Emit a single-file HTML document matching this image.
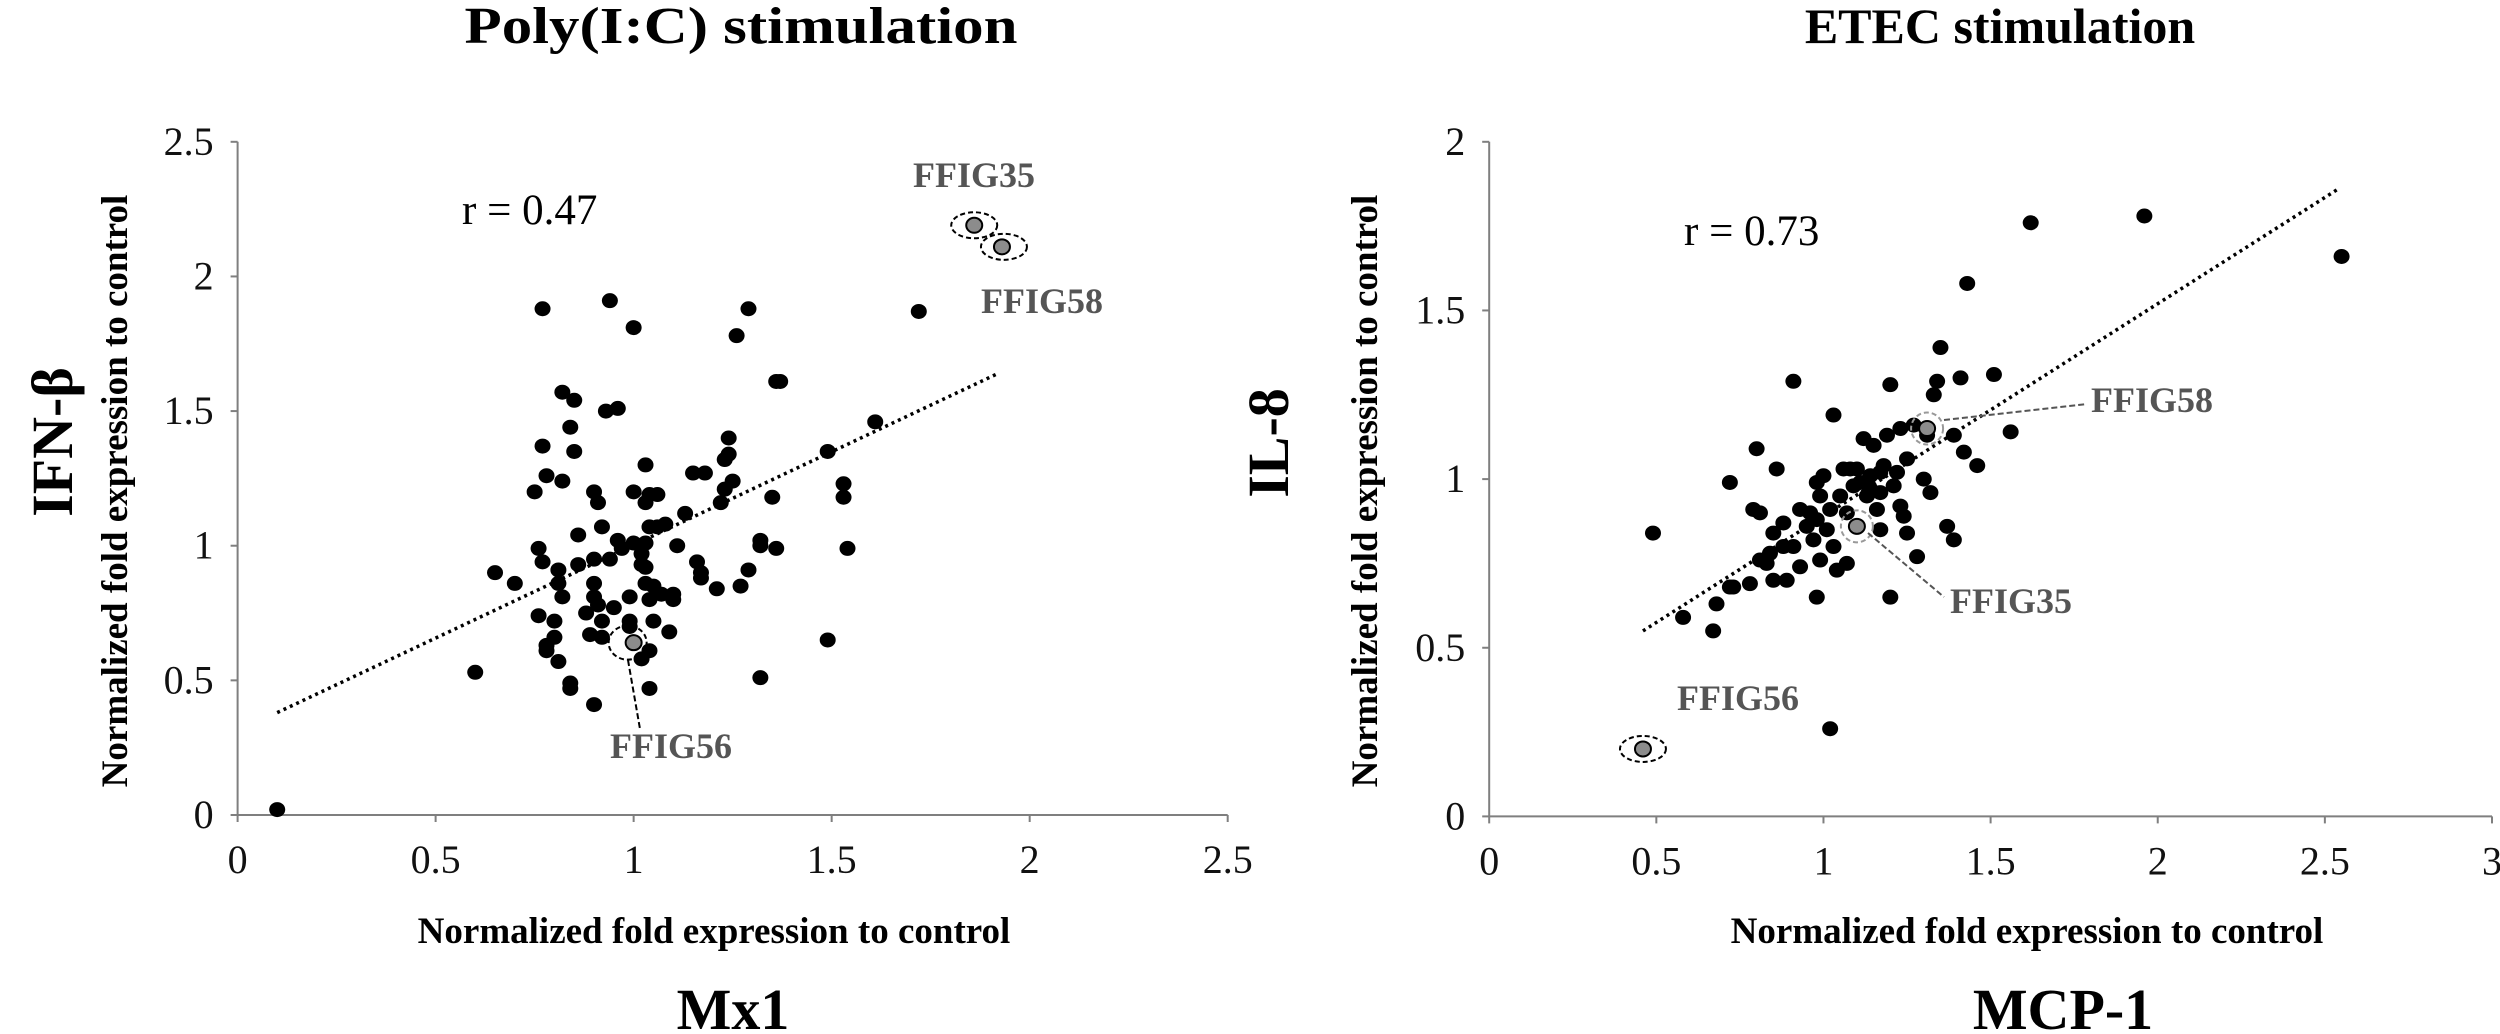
<!DOCTYPE html>
<html><head><meta charset="utf-8"><style>
html,body{margin:0;padding:0;background:#fff;}
svg{display:block;font-family:"Liberation Serif",serif;}
</style></head><body>
<svg id="fig" width="2500" height="1034" viewBox="0 0 2500 1034" xmlns="http://www.w3.org/2000/svg">
<rect width="2500" height="1034" fill="#fff"/>
<text x="741" y="43" text-anchor="middle" font-size="52" font-weight="bold" textLength="553" lengthAdjust="spacingAndGlyphs">Poly(I:C) stimulation</text>
<text x="2000" y="43" text-anchor="middle" font-size="50" font-weight="bold">ETEC stimulation</text>
<text x="733" y="1029" text-anchor="middle" font-size="58" font-weight="bold">Mx1</text>
<text x="2063" y="1029" text-anchor="middle" font-size="58" font-weight="bold">MCP-1</text>
<text transform="translate(72,442) rotate(-90)" text-anchor="middle" font-size="58" font-weight="bold">IFN-β</text>
<text transform="translate(1288,443) rotate(-90)" text-anchor="middle" font-size="58" font-weight="bold">IL-8</text>
<g id="left"></g>
<g id="right"></g>
</svg>
<script>
const NS="http://www.w3.org/2000/svg";
// Left chart data (Mx1 vs IFN-β)
const leftX=[0.10,0.60,0.65,0.70,0.75,0.77,0.77,0.78,0.76,0.77,0.76,0.78,0.78,0.81,0.80,0.80,0.81,0.81,0.82,0.82,0.82,0.85,0.84,0.85,0.86,0.86,0.84,0.84,0.89,0.88,0.90,0.90,0.90,0.90,0.91,0.90,0.91,0.92,0.92,0.92,0.93,0.94,0.94,0.95,0.96,0.96,0.97,0.99,0.99,0.99,1.00,1.00,1.00,1.02,1.02,1.03,1.02,1.03,1.03,1.03,1.04,1.03,1.04,1.04,1.04,1.04,1.05,1.06,1.05,1.06,1.08,1.07,1.09,1.10,1.10,1.11,1.13,1.15,1.16,1.17,1.17,1.18,1.21,1.22,1.23,1.23,1.24,1.24,1.25,1.26,1.27,1.29,1.29,1.32,1.32,1.32,1.35,1.36,1.36,1.37,1.49,1.49,1.53,1.53,1.54,1.61,1.72];
const leftY=[0.02,0.53,0.90,0.86,1.20,1.88,1.37,1.26,0.99,0.94,0.74,0.63,0.61,0.57,0.72,0.66,0.91,0.86,0.81,1.24,1.57,1.54,1.44,1.35,1.04,0.93,0.49,0.47,0.67,0.75,0.41,0.86,0.95,1.20,1.16,0.81,0.78,0.72,0.66,1.07,1.50,1.91,0.95,0.77,1.51,1.02,0.99,0.81,0.72,0.70,1.20,1.81,1.01,0.97,0.93,0.86,0.58,1.01,1.16,0.92,1.19,1.30,0.47,0.61,1.07,0.80,0.72,1.19,0.85,1.07,1.08,0.82,0.68,0.80,0.82,1.00,1.12,1.27,0.94,0.90,0.88,1.27,0.84,1.16,1.21,1.32,1.40,1.34,1.24,1.78,0.85,1.88,0.91,0.51,1.02,1.00,1.18,0.99,1.61,1.61,1.35,0.65,1.23,1.18,0.99,1.46,1.87];
const leftHiX=[1.86,1.93,1.00];
const leftHiY=[2.19,2.11,0.64];
const leftXTicks=["0","0.5","1","1.5","2","2.5"];
const leftYTicks=["0","0.5","1","1.5","2","2.5"];
const leftTrend=[0.10,1.92];
const leftSlope=[0.692,0.311];
// Right chart data (MCP-1 vs IL-8)
const rightX=[0.49,0.58,0.67,0.68,0.72,0.72,0.73,0.78,0.80,0.79,0.81,0.81,0.83,0.84,0.85,0.86,0.85,0.88,0.88,0.89,0.91,0.91,0.93,0.93,0.95,0.96,0.97,0.98,0.98,0.98,0.99,1.00,0.99,1.01,1.02,1.02,1.03,1.03,1.04,1.05,1.06,1.07,1.07,1.08,1.09,1.10,1.11,1.12,1.13,1.14,1.14,1.15,1.16,1.17,1.17,1.17,1.18,1.19,1.20,1.20,1.21,1.22,1.23,1.23,1.24,1.25,1.25,1.27,1.28,1.30,1.31,1.32,1.33,1.34,1.35,1.37,1.39,1.39,1.41,1.42,1.43,1.46,1.51,1.56,1.62,1.96,2.55];
const rightY=[0.84,0.59,0.55,0.63,0.99,0.68,0.68,0.69,1.09,0.91,0.90,0.76,0.75,0.78,0.84,1.03,0.70,0.87,0.80,0.70,1.29,0.80,0.74,0.91,0.86,0.90,0.82,0.65,0.88,0.99,0.95,1.01,0.76,0.85,0.91,0.26,1.19,0.80,0.73,0.95,1.03,0.75,0.90,1.03,0.98,1.03,0.99,1.12,0.95,1.01,0.97,1.10,0.91,1.02,0.96,0.85,1.04,1.13,1.28,0.65,0.98,1.02,0.92,1.15,0.89,1.06,0.84,1.16,0.77,1.00,1.13,0.96,1.25,1.29,1.39,0.86,0.82,1.13,1.30,1.08,1.58,1.04,1.31,1.14,1.76,1.78,1.66];
const rightHiX=[1.31,1.10,0.46];
const rightHiY=[1.15,0.86,0.20];
const rightXTicks=["0","0.5","1","1.5","2","2.5","3"];
const rightYTicks=["0","0.5","1","1.5","2"];
const rightTrend=[0.46,2.54];
const rightSlope=[0.63,0.26];

function mk(parent,tag,attrs,text){const e=document.createElementNS(NS,tag);for(const k in attrs)e.setAttribute(k,attrs[k]);if(text!==undefined)e.textContent=text;parent.appendChild(e);return e;}

function chart(g,cfg){
  const sx=v=>cfg.x0+(v-0)/(cfg.xmax)*(cfg.x1-cfg.x0);
  const sy=v=>cfg.y0-(v/cfg.ymax)*(cfg.y0-cfg.y1);
  let e;
  e=mk(g,'line',{x1:cfg.x0,y1:cfg.y0,x2:cfg.x1,y2:cfg.y0,stroke:'#7f7f7f','stroke-width':2});
  
  e=mk(g,'line',{x1:cfg.x0,y1:cfg.y0,x2:cfg.x0,y2:cfg.y1,stroke:'#7f7f7f','stroke-width':2});
  
  cfg.xt.forEach(t=>{const x=sx(parseFloat(t));
    mk(g,'line',{x1:x,y1:cfg.y0,x2:x,y2:cfg.y0+7,stroke:'#7f7f7f','stroke-width':2});
    e=mk(g,'text',{x:x,y:cfg.y0+58,'text-anchor':'middle','font-size':40,fill:'#111'},t);
    });
  cfg.yt.forEach(t=>{const y=sy(parseFloat(t));
    mk(g,'line',{x1:cfg.x0-7,y1:y,x2:cfg.x0,y2:y,stroke:'#7f7f7f','stroke-width':2});
    e=mk(g,'text',{x:cfg.x0-24,y:y+13,'text-anchor':'end','font-size':40,fill:'#111'},t);
    });
  e=mk(g,'line',{x1:sx(cfg.tr[0]),y1:sy(cfg.sl[0]*cfg.tr[0]+cfg.sl[1]),x2:sx(cfg.tr[1]),y2:sy(cfg.sl[0]*cfg.tr[1]+cfg.sl[1]),stroke:'#000','stroke-width':3.5,'stroke-dasharray':'3 4'});
  
  cfg.X.forEach((v,i)=>{e=mk(g,'ellipse',{cx:sx(v),cy:sy(cfg.Y[i]),rx:8,ry:7.5,fill:'#000'});
    });
  cfg.HX.forEach((v,i)=>{const cx=sx(v),cy=sy(cfg.HY[i]);const h=cfg.halo[i];
    e=mk(g,'ellipse',{cx:cx+h[2],cy:cy,rx:h[0],ry:h[1],fill:'none',stroke:h[3],'stroke-width':2,'stroke-dasharray':'5 3'});
    
    e=mk(g,'ellipse',{cx:cx,cy:cy,rx:8,ry:7.5,fill:'#8c8c8c',stroke:'#000','stroke-width':2});
    });
  e=mk(g,'text',{x:cfg.xtitle[0],y:cfg.xtitle[1],'text-anchor':'middle','font-size':37,'font-weight':'bold'},'Normalized fold expression to control');
  
  e=mk(g,'text',{transform:'translate('+cfg.ytitle[0]+','+cfg.ytitle[1]+') rotate(-90)','text-anchor':'middle','font-size':37,'font-weight':'bold'},'Normalized fold expression to control');
  
  e=mk(g,'text',{x:cfg.r[0],y:cfg.r[1],'font-size':43},cfg.r[2]);
  
  cfg.labels.forEach(l=>{e=mk(g,'text',{x:l[0],y:l[1],'font-size':36,'font-weight':'bold',fill:'#555'},l[2]);
    });
  cfg.leaders.forEach(l=>{e=mk(g,'line',{x1:l[0],y1:l[1],x2:l[2],y2:l[3],stroke:l[4],'stroke-width':2,'stroke-dasharray':'6 3'});
    });
}
chart(document.getElementById('left'),{x0:237.6,x1:1227.7,xmax:2.5,y0:815,y1:141.8,ymax:2.5,
  X:leftX,Y:leftY,HX:leftHiX,HY:leftHiY,xt:leftXTicks,yt:leftYTicks,tr:leftTrend,sl:leftSlope,
  halo:[[23,13,0,'#000'],[23,13,2,'#000'],[19,17,-6,'#000']],
  xtitle:[714,943],ytitle:[127,491],r:[462,224,'r = 0.47'],
  labels:[[913,187,'FFIG35'],[981,313,'FFIG58'],[610,758,'FFIG56']],
  leaders:[[628,660,640,729,'#000']]});
chart(document.getElementById('right'),{x0:1489.2,x1:2492,xmax:3,y0:816.4,y1:141.8,ymax:2,
  X:rightX,Y:rightY,HX:rightHiX,HY:rightHiY,xt:rightXTicks,yt:rightYTicks,tr:rightTrend,sl:rightSlope,
  halo:[[16,16,0,'#999'],[16,16,0,'#999'],[23,13,0,'#000']],
  xtitle:[2027,943],ytitle:[1377,491],r:[1684,245,'r = 0.73'],
  labels:[[2091,412,'FFIG58'],[1950,613,'FFIG35'],[1677,710,'FFIG56']],
  leaders:[[1944,420,2087,404,'#555'],[1868,533,1944,597,'#555']]});
</script>
</body></html>
